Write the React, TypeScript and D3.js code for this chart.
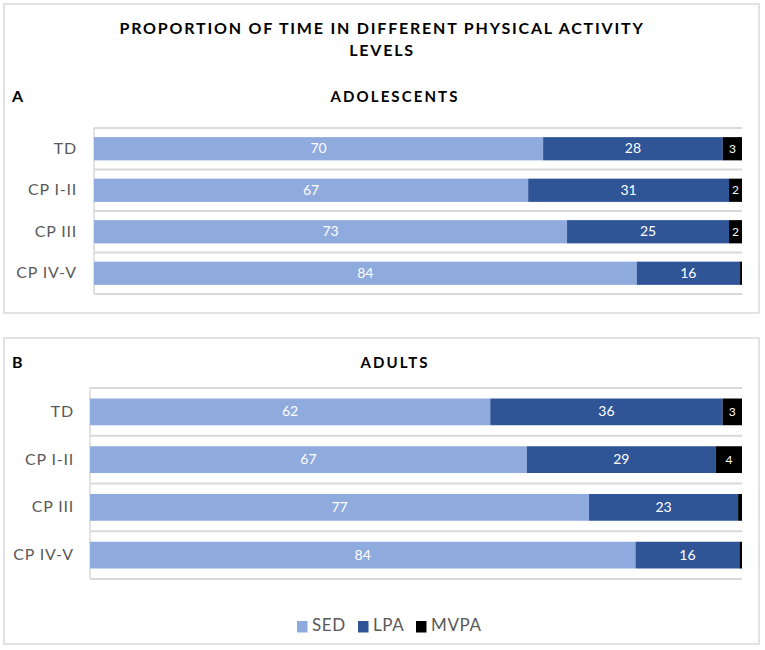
import React from "react";
import * as d3 from "d3";

const categories = ["TD", "CP I-II", "CP III", "CP IV-V"];
const seriesNames = ["SED", "LPA", "MVPA"];
const seriesColors = ["#8FAADC", "#2F5597", "#000000"];

const adolescentSED = [70, 67, 73, 84];
const adolescentLPA = [28, 31, 25, 16];
const adolescentMVPA = [3, 2, 2, 0.3];

const adultSED = [62, 67, 77, 84];
const adultLPA = [36, 29, 23, 16];
const adultMVPA = [3, 4, 0.6, 0.4];

const W = 765;
const H = 650;
const FONT = "Lato, 'Open Sans', sans-serif";

type Row = { cat: string; SED: number; LPA: number; MVPA: number };

function rows(sed: number[], lpa: number[], mvpa: number[]): Row[] {
  return categories.map((cat, i) => ({ cat, SED: sed[i], LPA: lpa[i], MVPA: mvpa[i] }));
}

type PanelProps = {
  letter: string;
  title: string;
  data: Row[];
  box: [number, number, number, number];
  titleY: number;
  plot: { x0: number; x1: number; y0: number; y1: number };
  labelX: number;
};

function Panel({ letter, title, data, box, titleY, plot, labelX }: PanelProps) {
  const y = d3.scaleBand().domain(categories).range([plot.y0, plot.y1]).paddingInner(0.44).paddingOuter(0.22);
  const x = d3.scaleLinear().domain([0, 1]).range([plot.x0, plot.x1]);
  const stack = d3.stack<Row>().keys(seriesNames).offset(d3.stackOffsetExpand);
  const layers = stack(data);
  const gridYs = d3.range(categories.length + 1).map((i) => plot.y0 + i * ((plot.y1 - plot.y0) / categories.length));

  return (
    <g>
      <rect x={box[0]} y={box[1]} width={box[2]} height={box[3]} fill="none" stroke="#d9d9d9" strokeWidth={1.5} />
      <text x={12} y={titleY} fontFamily={FONT} fontWeight={700} fontSize={16} dominantBaseline="middle">{letter}</text>
      <text x={395} y={titleY} fontFamily={FONT} fontWeight={700} fontSize={15} letterSpacing={2.1} textAnchor="middle" dominantBaseline="middle">{title}</text>
      {gridYs.map((gy, i) => (
        <line key={i} x1={plot.x0} x2={plot.x1} y1={gy} y2={gy} stroke="#d9d9d9" strokeWidth={2} />
      ))}
      <line x1={plot.x0} x2={plot.x0} y1={plot.y0} y2={plot.y1} stroke="#d9d9d9" strokeWidth={1.5} />
      {layers.map((layer, li) => (
        <g key={layer.key}>
          {layer.map((d, i) => {
            const cat = data[i].cat;
            const raw = data[i][layer.key as keyof Row] as number;
            const bx0 = x(d[0]);
            const bx1 = x(d[1]);
            return (
              <g key={cat}>
                <rect x={bx0} y={y(cat)} width={Math.max(0, bx1 - bx0)} height={y.bandwidth()} fill={seriesColors[li]} />
                {raw >= 1 && (
                  <text
                    x={(bx0 + bx1) / 2}
                    y={(y(cat) as number) + y.bandwidth() / 2 + 1}
                    fill="#fff"
                    fontFamily={FONT}
                    fontSize={li === 2 ? 12 : 14}
                    textAnchor="middle"
                    dominantBaseline="middle"
                  >
                    {Math.round(raw)}
                  </text>
                )}
              </g>
            );
          })}
        </g>
      ))}
      {categories.map((c) => (
        <text
          key={c}
          x={labelX}
          y={(y(c) as number) + y.bandwidth() / 2 + 1}
          fill="#595959"
          fontFamily={FONT}
          fontSize={16}
          letterSpacing={0.8}
          textAnchor="end"
          dominantBaseline="middle"
        >
          {c}
        </text>
      ))}
    </g>
  );
}

export default function App() {
  const adol = rows(adolescentSED, adolescentLPA, adolescentMVPA);
  const adult = rows(adultSED, adultLPA, adultMVPA);
  const legendX = [297, 358, 416];
  return (
    <div style={{ position: "absolute", left: 0, top: 0 }}>
      <svg width={W} height={H} style={{ display: "block", background: "#fff" }}>
        <Panel
          letter="A"
          title="ADOLESCENTS"
          data={adol}
          box={[4, 4, 755, 309]}
          titleY={98}
          plot={{ x0: 94, x1: 742, y0: 128, y1: 294 }}
          labelX={77}
        />
        <Panel
          letter="B"
          title="ADULTS"
          data={adult}
          box={[4, 338, 755, 306]}
          titleY={364}
          plot={{ x0: 90, x1: 742, y0: 388, y1: 579 }}
          labelX={74}
        />
        <text x={382} y={30} fontFamily={FONT} fontWeight={700} fontSize={16} letterSpacing={1.8} textAnchor="middle" dominantBaseline="middle">
          PROPORTION OF TIME IN DIFFERENT PHYSICAL ACTIVITY
        </text>
        <text x={382} y={52} fontFamily={FONT} fontWeight={700} fontSize={16} letterSpacing={1.8} textAnchor="middle" dominantBaseline="middle">
          LEVELS
        </text>
        {seriesNames.map((s, i) => (
          <g key={s}>
            <rect x={legendX[i]} y={621} width={10.5} height={11.5} fill={seriesColors[i]} />
            <text x={legendX[i] + 15} y={627} fill="#595959" fontFamily={FONT} fontSize={17} letterSpacing={0.6} dominantBaseline="middle">{s}</text>
          </g>
        ))}
      </svg>
    </div>
  );
}
